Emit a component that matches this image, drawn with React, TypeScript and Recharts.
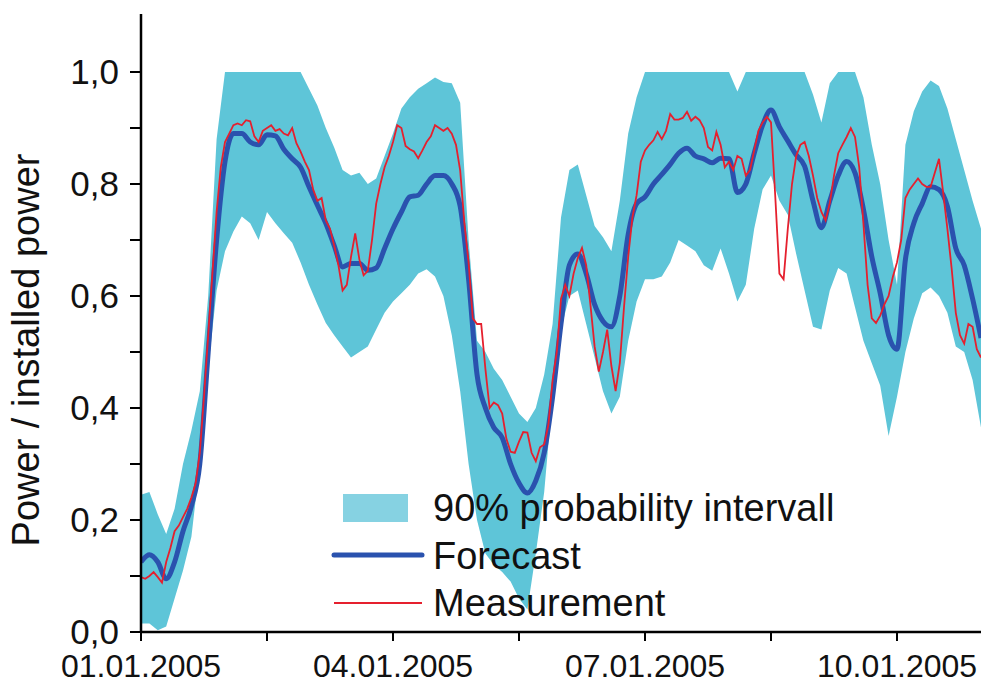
import React from 'react';
import { ComposedChart, Area, Line, XAxis, YAxis } from 'recharts';

// Forecast, band bounds: every 0.1 day from 01.01.2005 00:00 to 11.01.2005 00:00
const forecast = [
  0.125, 0.138, 0.125, 0.095, 0.125, 0.18, 0.225, 0.3, 0.5, 0.7,
  0.84, 0.89, 0.89, 0.875, 0.87, 0.888, 0.886, 0.862, 0.845, 0.83,
  0.795, 0.762, 0.73, 0.69, 0.652, 0.658, 0.658, 0.646, 0.65, 0.685,
  0.72, 0.75, 0.777, 0.78, 0.8, 0.815, 0.815, 0.8, 0.76, 0.63,
  0.46, 0.4, 0.365, 0.347, 0.3, 0.266, 0.248, 0.27, 0.32, 0.42,
  0.55, 0.655, 0.675, 0.64, 0.585, 0.555, 0.545, 0.6, 0.71, 0.765,
  0.777, 0.8, 0.817, 0.835, 0.855, 0.864, 0.85, 0.845, 0.838, 0.846,
  0.845, 0.785, 0.8, 0.855, 0.905, 0.932, 0.902, 0.877, 0.852, 0.832,
  0.77, 0.722, 0.77, 0.815, 0.84, 0.82, 0.755, 0.67, 0.605, 0.53,
  0.505, 0.665, 0.73, 0.765, 0.795, 0.79, 0.76, 0.685, 0.655, 0.595,
  0.525,
];

const upper = [
  0.245, 0.25, 0.21, 0.175, 0.22, 0.3, 0.36, 0.43, 0.6, 0.88,
  1, 1, 1, 1, 1, 1, 1, 1, 1, 1,
  0.97, 0.94, 0.9, 0.865, 0.825, 0.815, 0.82, 0.8, 0.81, 0.85,
  0.89, 0.935, 0.955, 0.97, 0.98, 0.99, 0.982, 0.98, 0.945, 0.7,
  0.52, 0.5, 0.47, 0.45, 0.42, 0.39, 0.375, 0.4, 0.46, 0.55,
  0.74, 0.825, 0.835, 0.78, 0.725, 0.705, 0.68, 0.77, 0.89, 0.955,
  1, 1, 1, 1, 1, 1, 1, 1, 1, 1,
  1, 0.965, 1, 1, 1, 1, 1, 1, 1, 1,
  0.96, 0.91, 0.98, 1, 1, 1, 0.955, 0.87, 0.8, 0.7,
  0.62, 0.87, 0.93, 0.965, 0.985, 0.975, 0.935, 0.88, 0.825, 0.77,
  0.72,
];

const lower = [
  0.015, 0.015, 0.003, 0.01, 0.06, 0.11, 0.17, 0.3, 0.47, 0.61,
  0.68, 0.715, 0.742, 0.73, 0.7, 0.75, 0.73, 0.712, 0.695, 0.66,
  0.62, 0.585, 0.552, 0.53, 0.51, 0.49, 0.5, 0.51, 0.54, 0.57,
  0.59, 0.605, 0.62, 0.64, 0.648, 0.635, 0.6, 0.53, 0.43, 0.3,
  0.2, 0.14, 0.12, 0.107, 0.09, 0.06, 0.04, 0.14, 0.25, 0.42,
  0.54, 0.6, 0.61, 0.55, 0.49, 0.43, 0.39, 0.42, 0.52, 0.59,
  0.63, 0.63, 0.635, 0.66, 0.7, 0.69, 0.68, 0.655, 0.645, 0.685,
  0.64, 0.59, 0.62, 0.72, 0.79, 0.815, 0.77, 0.745, 0.675, 0.61,
  0.545, 0.54, 0.61, 0.65, 0.64, 0.58, 0.52, 0.48, 0.44, 0.35,
  0.42, 0.5, 0.56, 0.605, 0.615, 0.6, 0.57, 0.51, 0.5, 0.45,
  0.365,
];

// Measurement: every 0.05 day
const measurement = [
  0.098, 0.095, 0.1, 0.107, 0.098, 0.088, 0.125, 0.15, 0.18, 0.19,
  0.205, 0.22, 0.24, 0.265, 0.32, 0.42, 0.53, 0.64, 0.75, 0.83,
  0.875, 0.89, 0.905, 0.908, 0.905, 0.914, 0.912, 0.885, 0.875, 0.895,
  0.9, 0.905, 0.895, 0.898, 0.89, 0.887, 0.9, 0.873, 0.858, 0.84,
  0.825, 0.79, 0.77, 0.775, 0.735, 0.72, 0.69, 0.655, 0.61, 0.62,
  0.67, 0.712, 0.665, 0.637, 0.645, 0.7, 0.765, 0.8, 0.83, 0.85,
  0.875, 0.905, 0.9, 0.868, 0.862, 0.858, 0.846, 0.86, 0.875, 0.885,
  0.905, 0.9, 0.895, 0.9, 0.89, 0.87, 0.824, 0.73, 0.66, 0.56,
  0.55, 0.55, 0.47, 0.4, 0.41, 0.405, 0.39, 0.345, 0.322, 0.32,
  0.34, 0.357, 0.356, 0.32, 0.305, 0.33, 0.335, 0.37, 0.45, 0.5,
  0.595, 0.62, 0.6, 0.64, 0.668, 0.686, 0.655, 0.585, 0.51, 0.465,
  0.5, 0.54, 0.475, 0.43, 0.48, 0.58, 0.67, 0.74, 0.78, 0.84,
  0.86, 0.87, 0.878, 0.893, 0.88, 0.895, 0.925, 0.915, 0.915, 0.918,
  0.929, 0.913, 0.92, 0.914, 0.9, 0.866, 0.86, 0.893, 0.87, 0.83,
  0.84, 0.825, 0.85, 0.845, 0.815, 0.825, 0.86, 0.895, 0.91, 0.92,
  0.91, 0.78, 0.64, 0.63, 0.72, 0.8, 0.85, 0.87, 0.875, 0.85,
  0.815, 0.775, 0.75, 0.735, 0.766, 0.815, 0.855, 0.87, 0.884, 0.9,
  0.884, 0.83, 0.73, 0.62, 0.56, 0.552, 0.565, 0.585, 0.6, 0.634,
  0.66, 0.7, 0.775, 0.79, 0.8, 0.81, 0.8, 0.795, 0.795, 0.82,
  0.845, 0.784, 0.72, 0.65, 0.57, 0.53, 0.515, 0.55, 0.545, 0.505,
  0.49,
];

const xTicks = [0, 1.5, 3, 4.5, 6, 7.5, 9];
const xTickLabels: Record<string, string> = {
  '0': '01.01.2005',
  '3': '04.01.2005',
  '6': '07.01.2005',
  '9': '10.01.2005',
};
const yTicks = [0, 0.1, 0.2, 0.3, 0.4, 0.5, 0.6, 0.7, 0.8, 0.9, 1.0];
const yTickLabels = ['0,0', '', '0,2', '', '0,4', '', '0,6', '', '0,8', '', '1,0'];

const legendItems = ['90% probability intervall', 'Forecast', 'Measurement'];
const yTitle = 'Power / installed power';

const mainRows = forecast.map((f, i) => ({
  t: i / 10,
  f,
  band: [lower[i], upper[i]],
}));
const measRows = measurement.map((m, j) => ({ t: j / 20, m }));

const FONT = '"Liberation Sans", Arial, Helvetica, sans-serif';
const BAND = '#5ec5d8';
const BLUE = '#2a52ae';
const RED = '#e5202e';

export default function App() {
  return (
    <div style={{ position: 'absolute', left: 0, top: 0, width: 996, height: 688, background: '#fff' }}>
      <ComposedChart
        width={996}
        height={688}
        data={mainRows}
        margin={{ top: 14, right: 15, bottom: 0, left: 0 }}
      >
        <XAxis
          dataKey="t"
          type="number"
          domain={[0, 10]}
          allowDataOverflow
          ticks={xTicks}
          interval={0}
          tickFormatter={(v: number) => xTickLabels[String(v)] ?? ''}
          height={56}
          tickSize={9}
          tickMargin={13}
          axisLine={{ stroke: '#000', strokeWidth: 2.5 }}
          tickLine={{ stroke: '#000', strokeWidth: 2 }}
          tick={{ fill: '#111', fontSize: 32, fontFamily: FONT }}
        />
        <YAxis
          type="number"
          domain={[0, 1.1036]}
          allowDataOverflow
          ticks={yTicks}
          interval={0}
          tickFormatter={(v: number, i: number) => yTickLabels[i] ?? ''}
          width={141}
          tickSize={11}
          tickMargin={11}
          axisLine={{ stroke: '#000', strokeWidth: 2.5 }}
          tickLine={{ stroke: '#000', strokeWidth: 2 }}
          tick={{ fill: '#111', fontSize: 35, fontFamily: FONT }}
        />
        <Area
          dataKey="band"
          type="linear"
          stroke="none"
          fill={BAND}
          fillOpacity={1}
          isAnimationActive={false}
          dot={false}
          activeDot={false}
        />
        <Line
          dataKey="f"
          type="monotone"
          stroke={BLUE}
          strokeWidth={5}
          dot={false}
          activeDot={false}
          isAnimationActive={false}
        />
        <Line
          data={measRows}
          dataKey="m"
          type="linear"
          stroke={RED}
          strokeWidth={1.8}
          dot={false}
          activeDot={false}
          isAnimationActive={false}
        />
      </ComposedChart>
      <svg
        width={996}
        height={688}
        style={{ position: 'absolute', left: 0, top: 0, pointerEvents: 'none' }}
      >
        <text
          x={39}
          y={350}
          transform="rotate(-90 39 350)"
          textAnchor="middle"
          fontSize={38}
          fontFamily={FONT}
          fill="#111"
        >
          {yTitle}
        </text>
        <rect x={343} y={494} width={65} height={28} fill="#86d2e2" />
        <line x1={334} y1={555} x2={422} y2={555} stroke={BLUE} strokeWidth={5} strokeLinecap="round" />
        <line x1={334} y1={603} x2={422} y2={603} stroke={RED} strokeWidth={2} />
        <text x={433} y={521} fontSize={38} fontFamily={FONT} fill="#111">{legendItems[0]}</text>
        <text x={433} y={569} fontSize={38} fontFamily={FONT} fill="#111">{legendItems[1]}</text>
        <text x={433} y={616} fontSize={38} fontFamily={FONT} fill="#111">{legendItems[2]}</text>
      </svg>
    </div>
  );
}
